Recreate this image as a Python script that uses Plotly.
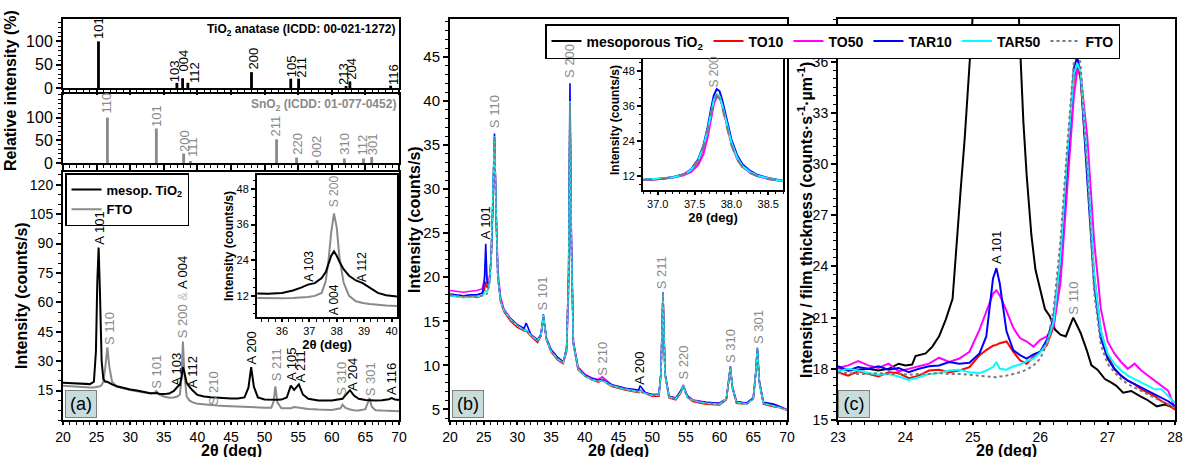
import plotly.graph_objects as go

# ===================== DATA =====================
# Reference patterns (top of panel a)
ana_pos = [25.28, 36.95, 37.80, 38.58, 48.05, 53.89, 55.06, 62.12, 62.69, 68.76]
ana_int = [100, 11, 21, 11, 34, 20, 20, 3, 14, 5]
ana_hkl = ["101", "103", "004", "112", "200", "105", "211", "213", "204", "116"]
ana_lab_x = [25.3, 36.5, 37.9, 39.6, 48.3, 54.0, 55.5, 61.7, 62.9, 69.1]
ana_lab_y = [102, 10, 34, 9, 38, 22, 20, 5, 16, 5]

sno_pos = [26.61, 33.89, 37.95, 38.97, 51.78, 54.76, 57.82, 61.87, 64.72, 65.94]
sno_int = [100, 76, 21, 4, 52, 12, 6, 10, 10, 13]
sno_hkl = ["110", "101", "200", "111", "211", "220", "002", "310", "112", "301"]
sno_lab_x = [26.5, 33.9, 38.0, 39.2, 51.7, 54.9, 57.7, 61.9, 64.6, 66.0]
sno_lab_y = [107, 78, 22, 11, 55, 15, 11, 15, 15, 15]

# Panel (a) main
a_theta = [20, 21, 22, 23, 24, 24.6, 24.9, 25.1, 25.3, 25.5, 25.75, 26.0, 26.3, 26.6, 26.9,
           27.3, 28, 29, 30, 31, 32, 33, 33.6, 33.9, 34.3, 35, 35.8, 36.5, 37.0, 37.4,
           37.65, 37.85, 38.05, 38.4, 38.8, 39.3, 40, 41, 42, 43, 44, 45, 46, 47, 47.6,
           48.0, 48.4, 49, 50, 51, 51.35, 51.6, 51.9, 52.5, 53.3, 53.9, 54.4, 55.1, 55.7,
           56.5, 58, 60, 61.3, 61.6, 62.0, 62.7, 63.3, 64, 65, 65.3, 65.6, 65.95, 66.5,
           67.5, 68.5, 68.9, 69.4, 70]
a_meso = [19.0, 18.8, 18.6, 18.4, 18.3, 19.5, 35, 70, 88, 65, 30, 21, 19.5, 19.5, 18.8,
          18.2, 17.2, 16.3, 15.6, 15.0, 14.3, 13.7, 13.6, 13.8, 13.4, 13.2, 13.5, 14.8, 16.8, 18.0,
          22.0, 27.0, 24.5, 19.0, 17.0, 15.0, 12.8, 12.0, 11.6, 11.3, 11.1, 11.0, 11.0, 11.5, 16.5,
          27.0, 17.0, 11.5, 10.5, 10.2, 10.2, 10.3, 10.3, 10.4, 11.5, 17.5, 15.3, 18.2, 13.0,
          10.8, 10.0, 9.9, 10.4, 10.8, 12.5, 15.2, 12.5, 10.8, 10.2, 10.1, 10.1, 10.1, 10.0,
          10.1, 10.6, 11.2, 10.5, 10.2]
a_fto = [17.5, 17.2, 17.0, 16.8, 16.6, 16.6, 16.7, 16.8, 17.0, 17.2, 17.8, 19.5, 27, 37, 27,
         19.5, 17.0, 16.0, 15.3, 14.7, 14.1, 13.5, 13.9, 14.8, 13.0, 12.0, 11.4, 11.5, 12.0, 13.0,
         22.0, 40.0, 24.0, 12.0, 10.0, 9.0, 8.3, 7.9, 7.6, 7.4, 7.2, 7.0, 6.8, 6.7, 6.6,
         6.6, 6.5, 6.4, 6.3, 6.2, 9.5, 17.2, 9.0, 6.0, 5.9, 6.0, 6.6, 6.2, 5.8,
         5.6, 5.3, 5.1, 6.0, 7.8, 6.3, 5.3, 5.0, 4.9, 5.5, 8.0, 11.2, 6.8, 5.0,
         4.8, 4.7, 4.7, 4.6, 4.5]

# Panel (a) inset
ai_theta = [35.1, 35.5, 36.0, 36.4, 36.7, 36.95, 37.2, 37.45, 37.6, 37.7, 37.8, 37.9, 38.0,
            38.1, 38.25, 38.45, 38.7, 38.95, 39.2, 39.5, 39.8, 40.2]
ai_meso = [12.8, 12.7, 13.0, 13.8, 14.8, 15.8, 16.3, 18.0, 20.0, 22.5, 25.5, 27.0, 25.5,
           23.5, 21.0, 18.8, 17.2, 16.3, 14.8, 13.0, 12.2, 11.8]
ai_fto = [11.3, 11.2, 11.2, 11.3, 11.4, 11.6, 12.0, 13.0, 17.0, 24.0, 33.5, 39.8, 35.0,
          25.0, 16.5, 12.0, 10.2, 9.6, 9.3, 9.0, 8.8, 8.6]

# Panel (b)
b_theta = [20, 21, 22, 23, 24, 24.8, 25.1, 25.3, 25.5, 25.8, 26.1, 26.35, 26.6, 26.85, 27.1,
           27.5, 28, 29, 30, 31, 31.3, 32, 33, 33.5, 33.85, 34.3, 35, 36, 36.8, 37.3,
           37.6, 37.8, 38.0, 38.3, 39, 40, 41, 42, 42.6, 44, 46, 48, 48.2, 49, 50,
           51, 51.3, 51.6, 51.9, 52.5, 53.5, 54.2, 54.6, 55.2, 56, 58, 60, 61, 61.35, 61.6,
           61.9, 62.5, 64, 65, 65.35, 65.6, 65.9, 66.5, 68, 69, 70]
b_to10 = [17.9, 17.8, 17.7, 17.8, 17.7, 17.9, 18.6, 19.5, 18.8, 19.2, 22.0, 28.0, 35.8, 27.0, 20.0,
          17.3, 16.1, 15.0, 14.3, 13.9, 13.9, 13.3, 12.6, 13.3, 15.5, 12.9, 11.5, 10.6, 10.2, 11.7,
          20.5, 39.7, 24.0, 12.4, 9.5, 8.8, 8.4, 8.1, 8.3, 7.6, 7.2, 6.9, 7.1, 6.8, 6.5,
          6.5, 9.0, 18.0, 9.0, 6.3, 6.1, 6.8, 7.6, 6.4, 5.9, 5.6, 5.5, 6.1, 8.0, 9.7,
          7.4, 5.7, 5.6, 6.2, 9.0, 11.8, 8.0, 5.6, 5.3, 5.2, 4.9]
b_to50 = [18.5, 18.4, 18.3, 18.4, 18.5, 18.7, 19.8, 21.0, 19.8, 19.6, 22.0, 28.0, 35.5, 27.5, 20.8,
          17.8, 16.4, 15.3, 14.6, 14.1, 14.0, 13.5, 12.9, 13.5, 15.6, 13.1, 11.7, 10.8, 10.4, 11.5,
          18.5, 39.0, 24.5, 12.8, 9.8, 9.0, 8.6, 8.4, 8.7, 7.8, 7.4, 7.1, 7.2, 6.9, 6.7,
          6.7, 9.0, 18.1, 9.1, 6.5, 6.3, 6.9, 7.8, 6.6, 6.1, 5.8, 5.7, 6.2, 8.0, 9.6,
          7.5, 5.9, 5.7, 6.3, 9.0, 11.7, 8.1, 5.8, 5.5, 5.3, 5.0]
b_tar10 = [18.1, 18.0, 17.9, 18.0, 18.0, 18.2, 19.5, 23.8, 19.5, 19.0, 22.0, 28.5, 36.3, 27.0, 20.2,
           17.4, 16.2, 15.3, 14.6, 14.2, 14.8, 13.5, 12.9, 13.5, 15.8, 13.1, 11.8, 10.9, 10.4, 12.0,
           20.5, 42.0, 25.0, 12.6, 9.7, 8.9, 8.5, 8.3, 8.4, 7.8, 7.4, 7.2, 7.7, 6.9, 6.7,
           6.7, 9.2, 18.3, 9.1, 6.5, 6.3, 7.1, 7.7, 6.5, 6.0, 5.8, 5.7, 6.2, 8.1, 9.9,
           7.6, 5.9, 5.7, 6.3, 9.1, 12.0, 8.2, 5.8, 5.6, 5.3, 4.9]
b_tar50 = [17.9, 17.8, 17.7, 17.7, 17.8, 17.9, 18.2, 18.5, 18.3, 19.0, 22.0, 28.0, 36.0, 27.2, 20.1,
           17.3, 16.2, 15.2, 14.5, 14.0, 14.0, 13.4, 12.8, 13.4, 15.7, 13.0, 11.6, 10.7, 10.3, 11.8,
           20.0, 40.0, 24.2, 12.5, 9.6, 8.8, 8.4, 8.2, 8.3, 7.7, 7.3, 7.0, 7.1, 6.8, 6.6,
           6.6, 9.0, 18.2, 9.0, 6.4, 6.2, 6.9, 7.7, 6.4, 6.0, 5.7, 5.6, 6.2, 8.0, 9.8,
           7.5, 5.8, 5.6, 6.2, 9.0, 11.9, 8.0, 5.7, 5.4, 5.2, 4.9]
b_fto = [18.0, 17.9, 17.8, 17.8, 17.8, 17.9, 18.0, 18.0, 18.1, 19.0, 22.0, 28.0, 36.0, 27.0, 20.0,
         17.3, 16.2, 15.2, 14.5, 14.0, 13.9, 13.4, 12.8, 13.4, 15.6, 13.0, 11.6, 10.7, 10.3, 11.8,
         20.0, 39.8, 24.0, 12.5, 9.6, 8.8, 8.4, 8.2, 8.3, 7.7, 7.3, 7.0, 7.0, 6.8, 6.6,
         6.6, 9.0, 18.2, 9.0, 6.4, 6.2, 6.9, 7.6, 6.4, 6.0, 5.7, 5.6, 6.2, 8.0, 9.8,
         7.5, 5.8, 5.6, 6.2, 9.0, 11.9, 8.0, 5.7, 5.4, 5.2, 4.9]

# Panel (b) inset
bi_theta = [36.8, 37.0, 37.2, 37.35, 37.45, 37.55, 37.62, 37.68, 37.72, 37.76, 37.8, 37.84,
            37.88, 37.93, 38.0, 38.08, 38.15, 38.25, 38.35, 38.5, 38.7]
bi_to10 = [10.6, 10.9, 11.5, 12.4, 13.8, 17.0, 21.5, 27.5, 33.0, 37.5, 39.7, 39.0, 35.8, 30.0,
           23.0, 17.8, 15.2, 13.2, 12.1, 11.1, 10.3]
bi_to50 = [10.6, 10.9, 11.4, 12.2, 13.3, 15.8, 19.5, 25.5, 31.5, 36.5, 39.0, 38.8, 36.0, 30.5,
           23.5, 18.0, 15.2, 13.2, 12.0, 11.0, 10.2]
bi_tar10 = [10.7, 11.0, 11.6, 12.6, 14.2, 17.8, 22.5, 29.0, 34.5, 39.5, 41.8, 41.0, 37.5, 32.0,
            24.5, 19.0, 16.0, 13.8, 12.4, 11.3, 10.4]
bi_tar50 = [10.7, 11.0, 11.5, 12.5, 14.0, 17.4, 22.0, 28.0, 33.5, 38.0, 40.0, 39.3, 36.0, 30.5,
            23.5, 18.2, 15.4, 13.4, 12.2, 11.2, 10.3]
bi_fto = [10.6, 10.9, 11.5, 12.5, 14.0, 17.5, 22.0, 28.0, 33.0, 37.5, 39.6, 38.5, 35.0, 29.5,
          22.5, 17.5, 15.0, 13.0, 12.0, 11.0, 10.2]

# Panel (c)
c_theta = [23.0, 23.15, 23.3, 23.45, 23.6, 23.75, 23.9, 24.05, 24.2, 24.35, 24.5, 24.65, 24.8,
           24.95, 25.1, 25.2, 25.3, 25.35, 25.4, 25.5, 25.6, 25.7, 25.8, 25.9, 26.0, 26.1,
           26.2, 26.3, 26.4, 26.5, 26.55, 26.6, 26.7, 26.8, 26.9, 27.0, 27.1, 27.2, 27.3,
           27.4, 27.5, 27.6, 27.7, 27.8, 27.9, 28.0]
c_to10 = [17.8, 17.6, 17.85, 17.7, 17.55, 17.8, 17.75, 17.45, 17.6, 17.9, 17.95, 17.8, 17.9,
          18.1, 18.8, 19.1, 19.35, 19.4, 19.5, 19.6, 19.0, 18.5, 18.3, 18.7, 19.0, 19.4,
          20.5, 24.0, 29.5, 35.0, 35.8, 35.0, 29.5, 23.5, 20.2, 18.8, 18.0, 17.6, 17.3,
          17.1, 16.8, 16.6, 16.4, 16.1, 15.9, 15.6]
c_to50 = [18.05, 18.2, 18.45, 18.2, 18.05, 18.3, 17.85, 18.0, 18.15, 18.3, 18.65, 18.4, 18.6,
          19.0, 20.3, 21.4, 22.4, 22.6, 22.3, 21.4, 20.4, 19.8, 19.6, 19.3, 19.7, 19.9,
          20.5, 23.0, 28.5, 34.0, 35.5, 35.3, 31.5, 25.5, 21.5, 19.6, 18.9, 18.4, 18.0,
          18.3, 17.9, 17.6, 17.3, 17.0, 16.7, 15.7]
c_tar10 = [18.15, 17.9, 18.1, 18.0, 18.15, 17.95, 18.05, 17.8, 18.0, 18.15, 18.2, 18.4, 18.3,
           18.35, 18.9, 19.9, 23.3, 23.9, 23.0, 20.2, 19.1, 18.8, 18.6, 18.85, 19.0, 19.7,
           21.0, 24.5, 30.0, 35.6, 36.3, 35.2, 29.0, 23.0, 19.8, 18.6, 18.0, 17.6, 17.3,
           17.1, 16.9, 16.7, 16.5, 16.3, 16.1, 15.8]
c_tar50 = [17.85, 18.0, 17.9, 17.75, 17.65, 17.7, 17.55, 17.35, 17.5, 17.7, 17.75, 17.9, 17.95,
           17.8, 17.75, 17.9, 18.1, 18.4, 18.0, 17.95, 18.15, 18.25, 18.45, 18.6, 18.95, 19.5,
           20.8, 24.5, 30.5, 35.3, 35.9, 35.4, 30.0, 23.5, 20.2, 18.9, 18.3, 17.9, 17.6,
           17.4, 17.2, 17.0, 16.8, 16.8, 16.4, 16.0]
c_fto = [17.8, 17.75, 17.7, 17.7, 17.75, 17.7, 17.7, 17.65, 17.7, 17.7, 17.75, 17.7, 17.7,
         17.65, 17.6, 17.55, 17.5, 17.5, 17.55, 17.6, 17.7, 17.8, 17.95, 18.2, 18.6, 19.5,
         21.5, 25.5, 31.0, 36.0, 36.8, 35.8, 29.5, 22.5, 19.4, 18.3, 17.8, 17.4, 17.1,
         16.9, 16.7, 16.5, 16.3, 16.1, 15.9, 15.7]
cm_theta = [23.0, 23.15, 23.3, 23.45, 23.6, 23.75, 23.9, 24.0, 24.1, 24.15, 24.3, 24.4, 24.5,
            24.6, 24.7, 24.76, 24.82, 24.88, 24.96, 25.05, 25.2, 25.35, 25.5, 25.62, 25.7,
            25.75, 25.8, 25.87, 25.93, 26.0, 26.07, 26.14, 26.22, 26.3, 26.38, 26.44, 26.49,
            26.54, 26.6, 26.69, 26.76, 26.85, 26.96, 27.05, 27.13, 27.23, 27.35, 27.48, 27.58,
            27.73, 27.85, 28.0]
c_meso = [18.05, 17.9, 17.95, 18.0, 17.9, 18.0, 18.3, 18.2, 18.25, 18.75, 18.9, 19.3, 19.9,
          20.9, 22.1, 25.5, 28.5, 31.5, 37.0, 45, 55, 60, 55, 45, 37.0,
          32.5, 29.3, 25.8, 23.8, 22.7, 21.5, 21.1, 20.3, 20.0, 19.9, 20.5, 21.0,
          20.6, 20.1, 19.1, 18.2, 17.95, 17.4, 17.2, 17.0, 16.6, 16.7, 16.4, 16.2,
          15.8, 15.9, 15.7]

# Peak labels: (text, 2theta, base intensity, kind A=anatase/black, S=SnO2/gray, M=mixed)
a_lab_text = ["A 101", "S 110", "S 101", "A 103", "S 200 & A 004", "A 112", "S 210", "A 200",
              "S 211", "A 105", "A 211", "S 310", "A 204", "S 301", "A 116"]
a_lab_x = [25.3, 27.0, 34.0, 36.8, 37.8, 39.3, 42.4, 48.1, 51.7, 53.9, 55.4, 61.4, 63.0, 65.8, 68.9]
a_lab_y = [89, 37.5, 15.5, 17, 41, 15.5, 6.8, 28, 19, 19.6, 18.5, 12, 14.5, 11.5, 12]
a_lab_kind = ["A", "S", "S", "A", "M", "A", "S", "A", "S", "A", "A", "S", "A", "S", "A"]

ai_lab_text = ["S 200", "A 103", "A 112", "A 004"]
ai_lab_x = [37.9, 37.0, 38.9, 37.9]
ai_lab_y = [41.5, 16.4, 16.5, 5.3]
ai_lab_kind = ["S", "A", "A", "A"]

b_lab_text = ["A 101", "S 110", "S 101", "S 200", "S 210", "A 200", "S 211", "S 220", "S 310", "S 301"]
b_lab_x = [25.3, 26.6, 33.8, 37.8, 42.7, 48.0, 51.5, 54.6, 61.6, 65.7]
b_lab_y = [24.2, 36.8, 16.1, 42.5, 8.7, 7.7, 18.5, 8.3, 10.2, 12.3]
b_lab_kind = ["A", "S", "S", "S", "S", "A", "S", "S", "S", "S"]

bi_lab_text = ["S 200"]
bi_lab_x = [37.77]
bi_lab_y = [42.1]
bi_lab_kind = ["S"]

c_lab_text = ["A 101", "S 110"]
c_lab_x = [25.34, 26.49]
c_lab_y = [24.1, 21.1]
c_lab_kind = ["A", "S"]

# ===================== FIGURE =====================
W, H = 1183, 458
FONT = "Arial, 'Liberation Sans', sans-serif"
GRAY = "#8a8a8a"


def fx(px):
    return px / W


def fy(py):
    return 1 - py / H


def axis(domain, rng, size=14, minor_dtick=None, **kw):
    d = dict(domain=domain, range=rng, showline=True, linewidth=2, linecolor="black",
             mirror=True, ticks="outside", ticklen=5, tickwidth=1.5, tickcolor="black",
             showgrid=False, zeroline=False, automargin=False, ticklabeloverflow="allow",
             tickfont=dict(size=size, color="black", family=FONT))
    if minor_dtick is not None:
        d["minor"] = dict(ticks="outside", ticklen=3, tickwidth=1, tickcolor="black",
                          dtick=minor_dtick, showgrid=False)
    d.update(kw)
    return d


def xtitle(size, standoff):
    return dict(text="<b>2θ (deg)</b>", standoff=standoff,
                font=dict(size=size, color="black", family=FONT))


fig = go.Figure()

XA = [fx(63), fx(399)]
XB = [fx(450), fx(787)]
XC = [fx(838), fx(1175)]

layout = dict(
    width=W, height=H, margin=dict(l=0, r=0, t=0, b=0), autosize=False,
    paper_bgcolor="white", plot_bgcolor="white",
    font=dict(family=FONT, color="black"),
    xaxis=axis(XA, [20, 70], dtick=5, tick0=20, showticklabels=False, anchor="y", minor_dtick=1),
    yaxis=axis([fy(88), fy(19)], [0, 148], size=16, tickvals=[0, 50, 100], anchor="x", minor_dtick=10),
    xaxis2=axis(XA, [20, 70], dtick=5, tick0=20, showticklabels=False, anchor="y2", minor_dtick=1),
    yaxis2=axis([fy(163), fy(94)], [0, 152], size=16, tickvals=[0, 50, 100], anchor="x2", minor_dtick=10),
    xaxis3=axis(XA, [20, 70], size=14, dtick=5, tick0=20, anchor="y3", minor_dtick=1, ticklen=3),
    yaxis3=axis([fy(420), fy(172)], [0, 126.5], size=14, tickvals=[15, 30, 45, 60, 75, 90, 105, 120],
                anchor="x3", minor=dict(ticks="outside", ticklen=3, tickwidth=1, tickcolor="black",
                                        dtick=5, tick0=0)),
    xaxis4=axis([fx(257), fx(397)], [35.09, 40.2], size=11, dtick=1, tick0=36, anchor="y4",
                minor_dtick=0.25, ticklen=3, title=xtitle(13, 0)),
    yaxis4=axis([fy(317), fy(175)], [4.9, 52.7], size=11, tickvals=[12, 24, 36, 48], anchor="x4",
                minor=dict(ticks="outside", ticklen=2, tickwidth=1, tickcolor="black", dtick=3, tick0=0),
                ticklen=4),
    xaxis5=axis(XB, [20, 70], size=14, dtick=5, tick0=20, anchor="y5", minor_dtick=1, ticklen=3),
    yaxis5=axis([fy(420), fy(19)], [3.8, 49.3], size=15, tickvals=[5, 10, 15, 20, 25, 30, 35, 40, 45],
                anchor="x5", minor=dict(ticks="outside", ticklen=3, tickwidth=1, tickcolor="black",
                                        dtick=1, tick0=0)),
    xaxis6=axis([fx(643), fx(783)], [36.8, 38.7], size=11, tickvals=[37.0, 37.5, 38.0, 38.5],
                ticktext=["37.0", "37.5", "38.0", "38.5"], anchor="y6", ticklen=3,
                minor=dict(ticks="outside", ticklen=2, tickwidth=1, tickcolor="black", dtick=0.1, tick0=0),
                title=xtitle(13, 0)),
    yaxis6=axis([fy(190), fy(49)], [7.2, 55.5], size=11, tickvals=[12, 24, 36, 48], anchor="x6",
                ticklen=4, minor=dict(ticks="outside", ticklen=2, tickwidth=1, tickcolor="black", dtick=3, tick0=0)),
    xaxis7=axis(XC, [23, 28], size=14, dtick=1, tick0=23, anchor="y7", minor_dtick=0.2, ticklen=3),
    yaxis7=axis([fy(420), fy(19)], [15, 38.5], size=14, tickvals=[15, 18, 21, 24, 27, 30, 33, 36],
                anchor="x7", minor=dict(ticks="outside", ticklen=3, tickwidth=1, tickcolor="black",
                                        dtick=0.5, tick0=0)),
    legend=dict(orientation="h", x=fx(545), y=fy(24), xanchor="left", yanchor="top",
                bgcolor="white", bordercolor="black", borderwidth=1.5,
                font=dict(size=14, family=FONT, color="black"), itemwidth=30,
                tracegroupgap=0, itemclick=False),
    legend2=dict(orientation="v", x=fx(65), y=fy(173), xanchor="left", yanchor="top",
                 bgcolor="white", bordercolor="black", borderwidth=1.5,
                 font=dict(size=13, family=FONT, color="black"), itemwidth=30,
                 tracegroupgap=0),
    showlegend=True,
)

# --- reference bars
fig.add_trace(go.Bar(x=ana_pos, y=ana_int, width=0.42, marker=dict(color="black", line_width=0),
                     xaxis="x", yaxis="y", showlegend=False))
fig.add_trace(go.Bar(x=sno_pos, y=sno_int, width=0.42, marker=dict(color=GRAY, line_width=0),
                     xaxis="x2", yaxis="y2", showlegend=False))

# --- panel (a)
fig.add_trace(go.Scatter(x=a_theta, y=a_fto, mode="lines", line=dict(color=GRAY, width=2),
                         xaxis="x3", yaxis="y3", showlegend=False))
fig.add_trace(go.Scatter(x=a_theta, y=a_meso, mode="lines", line=dict(color="black", width=2),
                         xaxis="x3", yaxis="y3", showlegend=False))
fig.add_trace(go.Scatter(x=[None], y=[None], mode="lines", line=dict(color="black", width=2),
                         name="<b>mesop. TiO<sub>2</sub></b>", xaxis="x3", yaxis="y3", legend="legend2"))
fig.add_trace(go.Scatter(x=[None], y=[None], mode="lines", line=dict(color=GRAY, width=2),
                         name="<b>FTO</b>", xaxis="x3", yaxis="y3", legend="legend2"))

# --- inset (a)
fig.add_trace(go.Scatter(x=ai_theta, y=ai_fto, mode="lines", line=dict(color=GRAY, width=2),
                         xaxis="x4", yaxis="y4", showlegend=False))
fig.add_trace(go.Scatter(x=ai_theta, y=ai_meso, mode="lines", line=dict(color="black", width=2),
                         xaxis="x4", yaxis="y4", showlegend=False))

# --- panel (b) & inset (b)
series_b = [(b_to10, bi_to10, "red", "solid"), (b_to50, bi_to50, "magenta", "solid"),
            (b_tar10, bi_tar10, "blue", "solid"), (b_tar50, bi_tar50, "cyan", "solid"),
            (b_fto, bi_fto, "#7a7a7a", "dot")]
for yb, yi, col, dash in series_b:
    fig.add_trace(go.Scatter(x=b_theta, y=yb, mode="lines", line=dict(color=col, width=1.6, dash=dash),
                             xaxis="x5", yaxis="y5", showlegend=False))
for yb, yi, col, dash in series_b:
    fig.add_trace(go.Scatter(x=bi_theta, y=yi, mode="lines",
                             line=dict(color=col, width=2, dash="dash" if dash == "dot" else dash),
                             xaxis="x6", yaxis="y6", showlegend=False))

# --- panel (c) with legend
series_c = [(cm_theta, c_meso, "black", "solid", "<b>mesoporous TiO<sub>2</sub></b>"),
            (c_theta, c_to10, "red", "solid", "<b>TO10</b>"),
            (c_theta, c_to50, "magenta", "solid", "<b>TO50</b>"),
            (c_theta, c_tar10, "blue", "solid", "<b>TAR10</b>"),
            (c_theta, c_tar50, "cyan", "solid", "<b>TAR50</b>"),
            (c_theta, c_fto, "#7a7a7a", "dot", "<b>FTO</b>")]
for xs, ys, col, dash, name in series_c:
    fig.add_trace(go.Scatter(x=xs, y=ys, mode="lines", line=dict(color=col, width=2, dash=dash),
                             name=name, xaxis="x7", yaxis="y7", legend="legend"))

# --- annotations
ann = []


def kind_color(k):
    return "black" if k == "A" else GRAY


def add_labels(texts, xs, ys, kinds, xr, yr, size):
    for t, x, y, k in zip(texts, xs, ys, kinds):
        if k == "M":
            a, b = t.split(" & ")
            t = (f'<span style="color:{GRAY}">{a} </span><span style="color:#c4c4c4">& </span>'
                 f'<span style="color:black">{b}</span>')
        ann.append(dict(text=t, x=x, y=y, xref=xr, yref=yr, textangle=-90, showarrow=False,
                        xanchor="center", yanchor="bottom", borderpad=0,
                        font=dict(size=size, color=kind_color(k), family=FONT)))


add_labels(ana_hkl, ana_lab_x, ana_lab_y, ["A"] * len(ana_hkl), "x", "y", 13)
add_labels(sno_hkl, sno_lab_x, sno_lab_y, ["S"] * len(sno_hkl), "x2", "y2", 13)
add_labels(a_lab_text, a_lab_x, a_lab_y, a_lab_kind, "x3", "y3", 13)
add_labels(ai_lab_text, ai_lab_x, ai_lab_y, ai_lab_kind, "x4", "y4", 12)
add_labels(b_lab_text, b_lab_x, b_lab_y, b_lab_kind, "x5", "y5", 13)
add_labels(bi_lab_text, bi_lab_x, bi_lab_y, bi_lab_kind, "x6", "y6", 12)
add_labels(c_lab_text, c_lab_x, c_lab_y, c_lab_kind, "x7", "y7", 13)

# reference titles
ann.append(dict(text="<b>TiO<sub>2</sub> anatase (ICDD: 00-021-1272)</b>", x=0.997, y=0.98,
                xref="x domain", yref="y domain", xanchor="right", yanchor="top", showarrow=False,
                font=dict(size=12, color="black", family=FONT)))
ann.append(dict(text="<b>SnO<sub>2</sub> (ICDD: 01-077-0452)</b>", x=0.997, y=0.98,
                xref="x2 domain", yref="y2 domain", xanchor="right", yanchor="top", showarrow=False,
                font=dict(size=12, color=GRAY, family=FONT)))


def title(text, x, y, size, angle=0, yanchor="middle", **kw):
    ann.append(dict(text=f"<b>{text}</b>", x=fx(x), y=fy(y), xref="paper", yref="paper",
                    xanchor="center", yanchor=yanchor, showarrow=False, textangle=angle,
                    borderpad=0, font=dict(size=size, color="black", family=FONT), **kw))


title("Relative intensity (%)", 11, 91, 16, -90)
title("Intensity (counts/s)", 21, 296, 16, -90)
title("Intensity (counts/s)", 414, 220, 16, -90)
title("Intensity / film thickness (counts·s<sup>-1</sup>·µm<sup>-1</sup>)", 805, 220, 16, -90)
for cx in (231, 618, 1006):
    title("2θ (deg)", cx, 458, 16, yanchor="bottom", height=15, valign="top")
title("Intensity (counts/s)", 229, 246, 12, -90)
title("Intensity (counts/s)", 615, 120, 12, -90)

# panel letters
for lab, cx in [("(a)", 81), ("(b)", 468), ("(c)", 854)]:
    ann.append(dict(text=lab, x=fx(cx), y=fy(404), xref="paper", yref="paper", xanchor="center",
                    yanchor="middle", showarrow=False, width=26, height=22, bgcolor="#c8dcdc",
                    bordercolor="#808080", borderwidth=1, borderpad=2,
                    font=dict(size=18, color="black", family=FONT)))

layout["annotations"] = ann

# inset backgrounds
layout["shapes"] = [
    dict(type="rect", xref="x4 domain", yref="y4 domain", x0=0, x1=1, y0=0, y1=1,
         fillcolor="#fdfde6", line=dict(width=0), layer="below"),
    dict(type="rect", xref="x6 domain", yref="y6 domain", x0=0, x1=1, y0=0, y1=1,
         fillcolor="#fdfde6", line=dict(width=0), layer="below"),
]

fig.update_layout(**layout)
fig.write_html("out.html")
